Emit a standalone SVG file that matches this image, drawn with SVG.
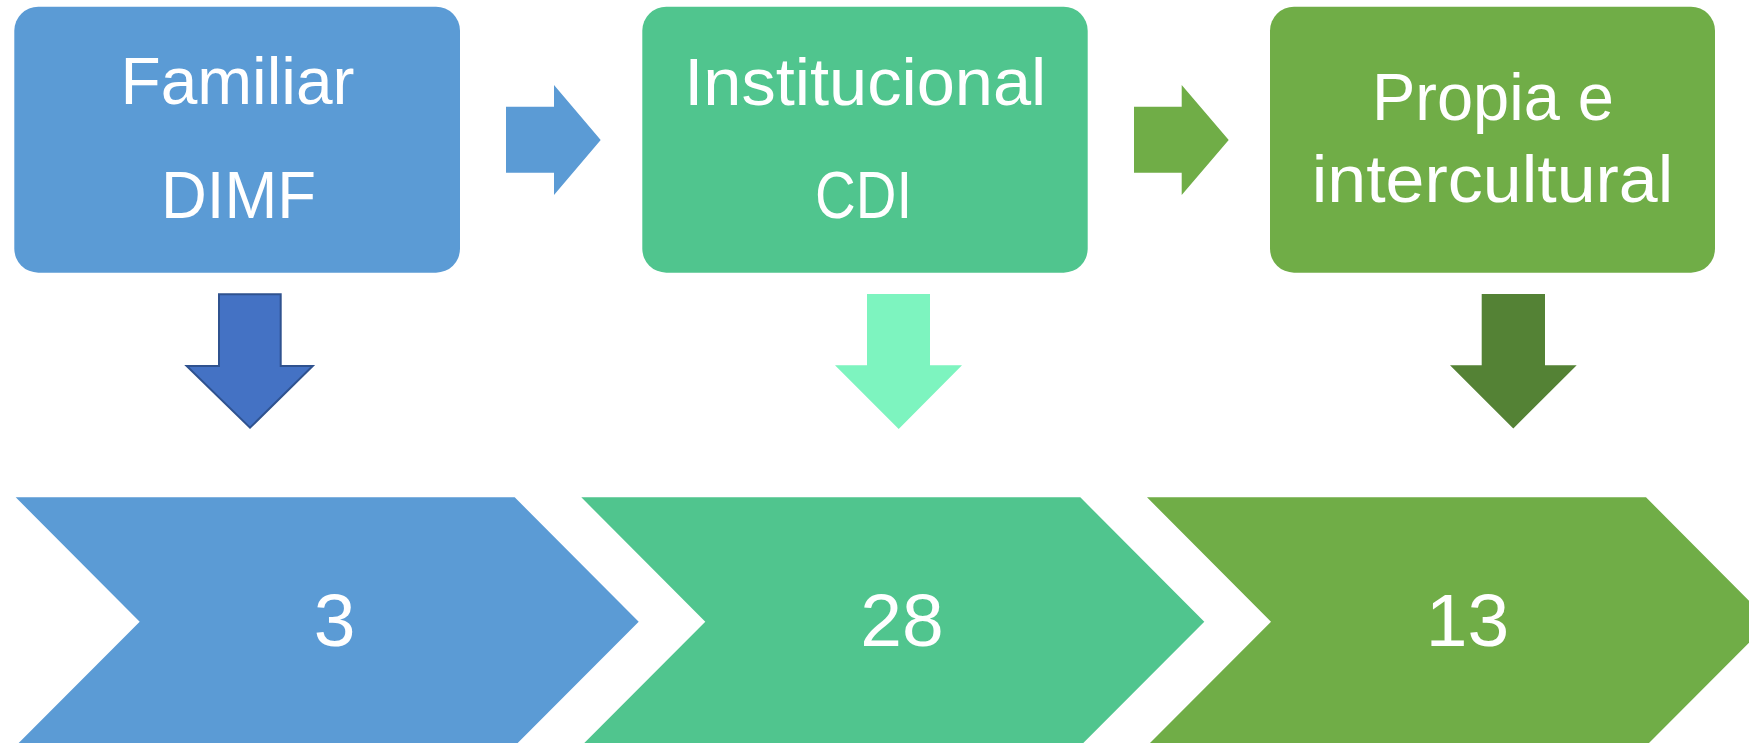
<svg xmlns="http://www.w3.org/2000/svg" width="1749" height="743" viewBox="0 0 1749 743">
<style>
text{font-family:"Liberation Sans",Arial,sans-serif;fill:#ffffff;text-anchor:middle}
.lbl{font-size:66px}
.num{font-size:75px}
.blue{fill:#5B9BD5}
.teal{fill:#50C58E}
.green{fill:#70AD47}
</style>
<rect width="1749" height="743" fill="#ffffff"/>
<g id="connectors">
<polygon class="blue" points="506,106.7 554,106.7 554,85 600.7,140 554,195 554,172.7 506,172.7"/>
<polygon class="green" points="1134,106.7 1181.7,106.7 1181.7,85 1228.7,140 1181.7,195 1181.7,172.7 1134,172.7"/>
<polygon points="219,294.3 280.7,294.3 280.7,366 312.7,366 250,427.7 186.7,366 219,366" fill="#4472C4" stroke="#2F528F" stroke-width="2"/>
<polygon points="867,294 930,294 930,365.3 962,365.3 898.7,429 835,365.3 867,365.3" fill="#7DF4BF"/>
<polygon points="1481.7,294 1545,294 1545,365.3 1576.7,365.3 1513.3,428.5 1450,365.3 1481.7,365.3" fill="#548235"/>
</g>
<g id="node-familiar">
<rect class="blue" x="14.3" y="6.7" width="445.7" height="266" rx="24" ry="24"/>
<text class="lbl" x="237.5" y="104" textLength="234" lengthAdjust="spacingAndGlyphs">Familiar</text>
<text class="lbl" x="238.5" y="218" textLength="155" lengthAdjust="spacingAndGlyphs">DIMF</text>
</g>
<g id="node-institucional">
<rect class="teal" x="642.3" y="6.7" width="445.4" height="266" rx="24" ry="24"/>
<text class="lbl" x="865.3" y="105" textLength="362" lengthAdjust="spacingAndGlyphs">Institucional</text>
<text class="lbl" x="863.6" y="218" textLength="97" lengthAdjust="spacingAndGlyphs">CDI</text>
</g>
<g id="node-propia">
<rect class="green" x="1270" y="6.7" width="445" height="266" rx="24" ry="24"/>
<text class="lbl" x="1493" y="120" textLength="242" lengthAdjust="spacingAndGlyphs">Propia e</text>
<text class="lbl" x="1492.5" y="201.7" textLength="361.6" lengthAdjust="spacingAndGlyphs">intercultural</text>
</g>
<g id="node-count-3">
<polygon class="blue" points="15.7,497.3 514.7,497.3 638.7,621.7 514.7,746 15.7,746 139.7,621.7"/>
<text class="num" x="334.5" y="645.7">3</text>
</g>
<g id="node-count-28">
<polygon class="teal" points="581.3,497.3 1080.3,497.3 1204.3,621.7 1080.3,746 581.3,746 705.3,621.7"/>
<text class="num" x="902" y="645.7">28</text>
</g>
<g id="node-count-13">
<polygon class="green" points="1147,497.3 1646,497.3 1770,621.7 1646,746 1147,746 1271,621.7"/>
<text class="num" x="1467.5" y="645.7">13</text>
</g>
</svg>
